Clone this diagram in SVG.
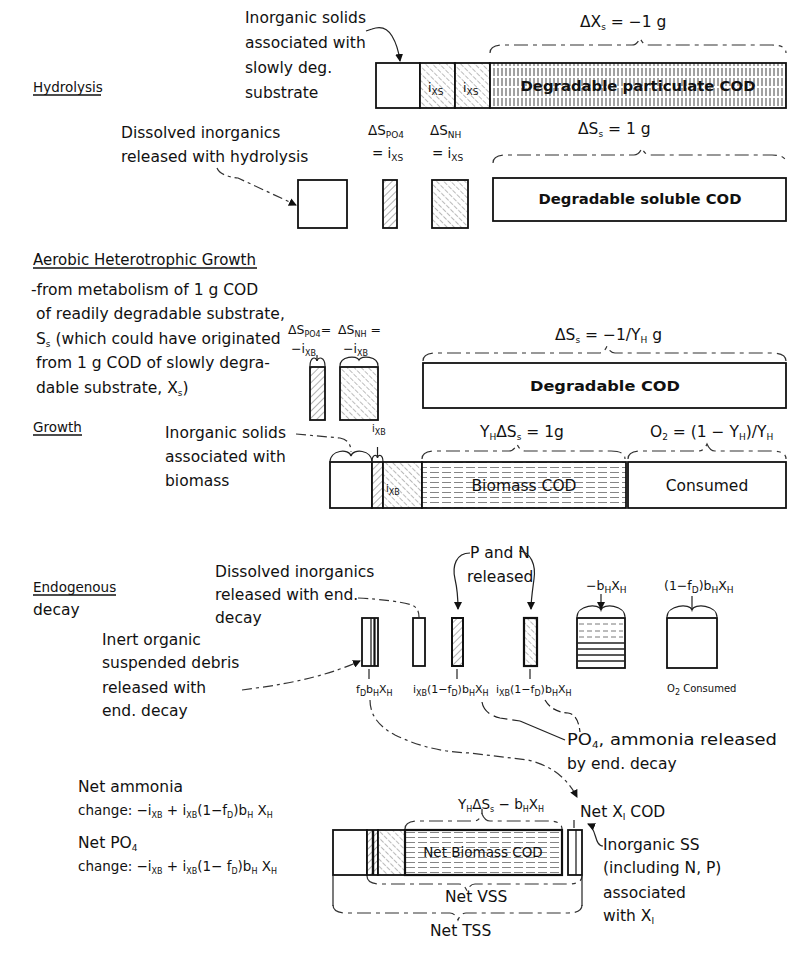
<svg xmlns="http://www.w3.org/2000/svg" width="794" height="970" viewBox="0 0 794 970">
<defs>
<style>
text{font-family:"DejaVu Sans","Liberation Sans",sans-serif;fill:#111}
.t{font-size:15.5px}
.h{font-size:15px}
.hs{font-size:13.5px}
.b{font-size:14px;font-weight:bold}
.m{font-size:13.5px}
.s{font-size:12.5px}
.l{font-size:11px}
.xs{font-size:10px}
.u{font-size:9px}
.uu{font-size:8px}
.box{fill:#fff;stroke:#111;stroke-width:1.8}
.ln{fill:none;stroke:#222;stroke-width:1.2}
.dl{fill:none;stroke:#333;stroke-width:1.2;stroke-dasharray:10 4 3 4}
.br{fill:none;stroke:#333;stroke-width:1.2;stroke-dasharray:14 5 4 5}
.ul{stroke:#111;stroke-width:1.3}
</style>
<pattern id="d1" width="5" height="5" patternUnits="userSpaceOnUse" patternTransform="rotate(45)">
<rect width="5" height="5" fill="#fff"/>
<line x1="0" y1="0" x2="0" y2="5" stroke="#555" stroke-width="0.9"/>
</pattern>
<pattern id="d2" width="5" height="6" patternUnits="userSpaceOnUse" patternTransform="rotate(-45)">
<rect width="5" height="6" fill="#fff"/>
<line x1="0" y1="0" x2="0" y2="6" stroke="#666" stroke-width="0.9" stroke-dasharray="3 1.5"/>
</pattern>
<pattern id="vt" width="4" height="10" patternUnits="userSpaceOnUse">
<rect width="4" height="10" fill="#fff"/>
<line x1="2" y1="0" x2="2" y2="10" stroke="#444" stroke-width="1" stroke-dasharray="6 2"/>
</pattern>
<pattern id="hz" width="12" height="5" patternUnits="userSpaceOnUse">
<rect width="12" height="5" fill="#fff"/>
<line x1="0" y1="2.5" x2="12" y2="2.5" stroke="#666" stroke-width="0.8" stroke-dasharray="7 3"/>
</pattern>
<marker id="ah" markerWidth="8" markerHeight="8" refX="7" refY="4" orient="auto" markerUnits="userSpaceOnUse">
<path d="M0,0 L8,4 L0,8 z" fill="#111"/>
</marker>
</defs>
<rect width="794" height="970" fill="#fff"/>

<!-- ===== Hydrolysis ===== -->
<g id="hydrolysis-title">
<text class="hs" x="33" y="92">Hydrolysis</text>
<line class="ul" x1="33" y1="95" x2="101" y2="95"/>
</g>
<g id="inorganic-solids-note">
<text class="t" x="245" y="23">Inorganic solids</text>
<text class="t" x="245" y="48">associated with</text>
<text class="t" x="245" y="73">slowly deg.</text>
<text class="t" x="245" y="98">substrate</text>
</g>
<g id="hydrolysis-bar">
<rect class="box" x="376" y="63" width="44" height="45"/>
<rect x="420" y="63" width="35" height="45" fill="url(#d2)" stroke="#111" stroke-width="1.8"/>
<rect x="455" y="63" width="35" height="45" fill="url(#d2)" stroke="#111" stroke-width="1.8"/>
<rect x="490" y="63" width="296" height="45" fill="url(#vt)" stroke="#111" stroke-width="1.8"/>
<text class="s" x="428" y="92">i<tspan class="u" dy="3">XS</tspan></text>
<text class="s" x="463" y="92">i<tspan class="u" dy="3">XS</tspan></text>
<text class="b" x="638" y="91" text-anchor="middle" textLength="235" lengthAdjust="spacingAndGlyphs">Degradable particulate COD</text>
</g>
<g id="dXs-label">
<text class="t" x="580" y="27">ΔX<tspan class="u" dy="3">s</tspan><tspan dy="-3"> = −1 g</tspan></text>
</g>

<g id="dissolved-note">
<text class="t" x="121" y="138">Dissolved inorganics</text>
<text class="t" x="121" y="162">released with hydrolysis</text>
</g>
<g id="hydrolysis-products">
<rect class="box" x="298" y="180" width="49" height="48"/>
<rect x="383" y="180" width="14" height="48" fill="url(#d1)" stroke="#111" stroke-width="1.8"/>
<rect x="432" y="180" width="36" height="48" fill="url(#d2)" stroke="#111" stroke-width="1.8"/>
<text class="m" x="368" y="135">ΔS<tspan class="u" dy="3">PO4</tspan></text>
<text class="m" x="372" y="158">= i<tspan class="u" dy="3">XS</tspan></text>
<text class="m" x="430" y="135">ΔS<tspan class="u" dy="3">NH</tspan></text>
<text class="m" x="432" y="158">= i<tspan class="u" dy="3">XS</tspan></text>
</g>
<g id="soluble-cod">
<rect class="box" x="493" y="178" width="293" height="43"/>
<text class="b" x="640" y="204" text-anchor="middle" textLength="203" lengthAdjust="spacingAndGlyphs">Degradable soluble COD</text>
<text class="t" x="578" y="134">ΔS<tspan class="u" dy="3">s</tspan><tspan dy="-3"> = 1 g</tspan></text>
</g>

<!-- ===== Aerobic heterotrophic growth ===== -->
<g id="aerobic-title">
<text class="h" x="33" y="265">Aerobic Heterotrophic Growth</text>
<line class="ul" x1="33" y1="268" x2="257" y2="268"/>
<text class="t" x="31" y="295">-from metabolism of 1 g COD</text>
<text class="t" x="36" y="319">of readily degradable substrate,</text>
<text class="t" x="36" y="344">S<tspan class="u" dy="3">s</tspan><tspan dy="-3"> (which could have originated</tspan></text>
<text class="t" x="36" y="368">from 1 g COD of slowly degra-</text>
<text class="t" x="36" y="393">dable substrate, X<tspan class="u" dy="3">s</tspan><tspan dy="-3">)</tspan></text>
</g>
<g id="aerobic-nutrients">
<text class="s" x="288" y="334">ΔS<tspan class="uu" dy="3">PO4</tspan><tspan dy="-3">=</tspan></text>
<text class="s" x="338" y="334">ΔS<tspan class="uu" dy="3">NH</tspan><tspan dy="-3"> =</tspan></text>
<text class="s" x="291" y="353">−i<tspan class="uu" dy="3">XB</tspan></text>
<text class="s" x="343" y="353">−i<tspan class="uu" dy="3">XB</tspan></text>
<rect x="310" y="367" width="15" height="53" fill="url(#d1)" stroke="#111" stroke-width="1.8"/>
<rect x="340" y="367" width="38" height="53" fill="url(#d2)" stroke="#111" stroke-width="1.8"/>
</g>
<g id="degradable-cod">
<text class="t" x="555" y="340">ΔS<tspan class="u" dy="3">s</tspan><tspan dy="-3"> = −1/Y</tspan><tspan class="u" dy="3">H</tspan><tspan dy="-3"> g</tspan></text>
<rect class="box" x="423" y="363" width="363" height="45"/>
<text class="b" x="605" y="391" text-anchor="middle" textLength="150" lengthAdjust="spacingAndGlyphs">Degradable COD</text>
</g>

<!-- ===== Growth ===== -->
<g id="growth-title">
<text class="hs" x="33" y="432">Growth</text>
<line class="ul" x1="33" y1="435" x2="82" y2="435"/>
</g>
<g id="biomass-inorganic-note">
<text class="t" x="165" y="438">Inorganic solids</text>
<text class="t" x="165" y="462">associated with</text>
<text class="t" x="165" y="486">biomass</text>
</g>
<g id="growth-bar">
<rect class="box" x="330" y="462" width="42" height="46"/>
<rect x="372" y="462" width="11" height="46" fill="url(#d1)" stroke="#111" stroke-width="1.8"/>
<rect x="383" y="462" width="39" height="46" fill="url(#d2)" stroke="#111" stroke-width="1.8"/>
<rect x="422" y="462" width="204" height="46" fill="url(#hz)" stroke="#111" stroke-width="1.8"/>
<rect class="box" x="628" y="462" width="158" height="46"/>
<text class="xs" x="386" y="492">i<tspan class="uu" dy="3">XB</tspan></text>
<text class="xs" x="372" y="432">i<tspan class="uu" dy="3">XB</tspan></text>
<text class="t" x="524" y="491" text-anchor="middle">Biomass COD</text>
<text class="t" x="707" y="491" text-anchor="middle">Consumed</text>
<text class="t" x="480" y="437">Y<tspan class="u" dy="3">H</tspan><tspan dy="-3">ΔS</tspan><tspan class="u" dy="3">s</tspan><tspan dy="-3"> = 1g</tspan></text>
<text class="t" x="650" y="437">O<tspan class="u" dy="3">2</tspan><tspan dy="-3">  = (1 − Y</tspan><tspan class="u" dy="3">H</tspan><tspan dy="-3">)/Y</tspan><tspan class="u" dy="3">H</tspan></text>
</g>

<!-- ===== Endogenous decay ===== -->
<g id="endogenous-title">
<text class="hs" x="33" y="592">Endogenous</text>
<line class="ul" x1="33" y1="595" x2="116" y2="595"/>
<text class="t" x="33" y="615">decay</text>
</g>
<g id="dissolved-end-note">
<text class="t" x="215" y="577">Dissolved inorganics</text>
<text class="t" x="215" y="600">released with end.</text>
<text class="t" x="215" y="623">decay</text>
</g>
<g id="inert-note">
<text class="t" x="102" y="645">Inert organic</text>
<text class="t" x="102" y="668">suspended debris</text>
<text class="t" x="102" y="693">released with</text>
<text class="t" x="102" y="716">end. decay</text>
</g>
<g id="pn-note">
<text class="t" x="470" y="558">P and N</text>
<text class="t" x="467" y="582">released</text>
</g>
<g id="decay-boxes">
<rect class="box" x="362" y="618" width="16" height="48"/>
<line x1="371" y1="618" x2="371" y2="666" stroke="#111" stroke-width="1.2"/>
<line x1="374.5" y1="618" x2="374.5" y2="666" stroke="#111" stroke-width="2.2"/>
<rect class="box" x="413" y="618" width="12" height="48"/>
<rect x="452" y="618" width="11" height="48" fill="url(#d1)" stroke="#111" stroke-width="2"/>
<rect x="524" y="618" width="13" height="48" fill="url(#d2)" stroke="#111" stroke-width="2.2"/>
<rect x="577" y="618" width="48" height="50" fill="#fff" stroke="#111" stroke-width="1.8"/>
<g stroke="#555" stroke-width="0.8" stroke-dasharray="5 3">
<line x1="579" y1="624" x2="623" y2="624"/>
<line x1="579" y1="631" x2="623" y2="631"/>
<line x1="579" y1="637" x2="623" y2="637"/>
</g>
<g stroke="#222" stroke-width="1.3">
<line x1="577" y1="643" x2="625" y2="643"/>
<line x1="577" y1="649" x2="625" y2="649"/>
<line x1="577" y1="655" x2="625" y2="655"/>
<line x1="577" y1="661" x2="625" y2="661"/>
</g>
<rect class="box" x="667" y="618" width="50" height="50"/>
<text class="l" x="356" y="693">f<tspan class="uu" dy="3">D</tspan><tspan dy="-3">b</tspan><tspan class="uu" dy="3">H</tspan><tspan dy="-3">X</tspan><tspan class="uu" dy="3">H</tspan></text>
<text class="l" x="413" y="693">i<tspan class="uu" dy="3">XB</tspan><tspan dy="-3">(1−f</tspan><tspan class="uu" dy="3">D</tspan><tspan dy="-3">)b</tspan><tspan class="uu" dy="3">H</tspan><tspan dy="-3">X</tspan><tspan class="uu" dy="3">H</tspan></text>
<text class="l" x="496" y="693">i<tspan class="uu" dy="3">XB</tspan><tspan dy="-3">(1−f</tspan><tspan class="uu" dy="3">D</tspan><tspan dy="-3">)b</tspan><tspan class="uu" dy="3">H</tspan><tspan dy="-3">X</tspan><tspan class="uu" dy="3">H</tspan></text>
<text class="s" x="586" y="590">−b<tspan class="u" dy="3">H</tspan><tspan dy="-3">X</tspan><tspan class="u" dy="3">H</tspan></text>
<text class="s" x="664" y="590">(1−f<tspan class="u" dy="3">D</tspan><tspan dy="-3">)b</tspan><tspan class="u" dy="3">H</tspan><tspan dy="-3">X</tspan><tspan class="u" dy="3">H</tspan></text>
<text class="xs" x="667" y="692">O<tspan class="uu" dy="3">2</tspan><tspan dy="-3"> Consumed</tspan></text>
</g>
<g id="po4-note">
<text class="t" x="567" y="745" textLength="210" lengthAdjust="spacingAndGlyphs">PO<tspan class="u" dy="3">4</tspan><tspan dy="-3">, ammonia released</tspan></text>
<text class="t" x="567" y="769">by end. decay</text>
</g>

<!-- ===== Net results ===== -->
<g id="net-ammonia">
<text class="t" x="78" y="792">Net ammonia</text>
<text class="m" x="78" y="815">change: −i<tspan class="uu" dy="3">XB</tspan><tspan dy="-3"> + i</tspan><tspan class="uu" dy="3">XB</tspan><tspan dy="-3">(1−f</tspan><tspan class="uu" dy="3">D</tspan><tspan dy="-3">)b</tspan><tspan class="uu" dy="3">H</tspan><tspan dy="-3"> X</tspan><tspan class="uu" dy="3">H</tspan></text>
</g>
<g id="net-po4">
<text class="t" x="78" y="848">Net PO<tspan class="u" dy="3">4</tspan></text>
<text class="m" x="78" y="871">change: −i<tspan class="uu" dy="3">XB</tspan><tspan dy="-3"> + i</tspan><tspan class="uu" dy="3">XB</tspan><tspan dy="-3">(1− f</tspan><tspan class="uu" dy="3">D</tspan><tspan dy="-3">)b</tspan><tspan class="uu" dy="3">H</tspan><tspan dy="-3"> X</tspan><tspan class="uu" dy="3">H</tspan></text>
</g>
<g id="net-bar">
<rect class="box" x="333" y="830" width="34" height="45"/>
<rect x="367" y="830" width="11" height="45" fill="url(#d1)" stroke="#111" stroke-width="1.8"/>
<line x1="373" y1="830" x2="373" y2="875" stroke="#111" stroke-width="2.4"/>
<rect x="378" y="830" width="27" height="45" fill="url(#d2)" stroke="#111" stroke-width="1.8"/>
<rect x="405" y="830" width="157" height="45" fill="url(#hz)" stroke="#111" stroke-width="2.2"/>
<text class="m" x="483" y="857" text-anchor="middle">Net Biomass COD</text>
<rect class="box" x="568" y="830" width="14" height="45"/>
<line x1="576" y1="830" x2="576" y2="875" stroke="#111" stroke-width="1.2"/>
<text class="m" x="458" y="809">Y<tspan class="uu" dy="3">H</tspan><tspan dy="-3">ΔS</tspan><tspan class="uu" dy="3">s</tspan><tspan dy="-3"> − b</tspan><tspan class="uu" dy="3">H</tspan><tspan dy="-3">X</tspan><tspan class="uu" dy="3">H</tspan></text>
<text class="t" x="580" y="817">Net X<tspan class="u" dy="3">I</tspan><tspan dy="-3"> COD</tspan></text>
<text class="t" x="445" y="902">Net VSS</text>
<text class="t" x="430" y="936">Net TSS</text>
</g>
<g id="inorganic-ss-note">
<text class="t" x="603" y="850">Inorganic SS</text>
<text class="t" x="603" y="873">(including N, P)</text>
<text class="t" x="603" y="898">associated</text>
<text class="t" x="603" y="921">with X<tspan class="u" dy="3">I</tspan></text>
</g>

<!-- ===== Connectors, braces, arrows ===== -->
<g id="connectors">
<path class="ln" d="M366,31 L372,29 Q385,24 392,36 Q398,46 400,61" marker-end="url(#ah)"/>
<path class="br" d="M490,53 Q490,45 504,45 L632,45 Q637,45 640,38 Q643,45 648,45 L772,45 Q786,45 786,53"/>
<path class="dl" d="M217,168 Q220,176 238,178 L296,205" marker-end="url(#ah)"/>
<path class="br" d="M493,163 Q493,155 507,155 L634,155 Q639,155 642,148 Q645,155 650,155 L772,155 Q786,155 786,163"/>
<path class="ln" d="M310,366 C310,357 316,356 317,361 C318,356 325,357 325,366"/>
<line class="ln" x1="317" y1="361" x2="317" y2="355"/>
<path class="ln" d="M340,366 C340,356 357,355 359,360 C361,355 378,356 378,366"/>
<path class="br" d="M423,361 Q423,353 437,353 L599,353 Q604,353 607,346 Q610,353 615,353 L772,353 Q786,353 786,361"/>
<path class="dl" d="M296,434 L340,438 Q351,440 351,452"/>
<path class="ln" d="M330,462 C330,450 349,448 351,456 C353,448 372,450 372,462"/>
<path class="ln" d="M372,462 C372,454 377,454 377.5,458 C378,454 383,454 383,462"/>
<line class="ln" x1="377.5" y1="458" x2="377.5" y2="447"/>
<path class="br" d="M422,459 Q422,451 436,451 L509,451 Q514,451 517,444 Q520,451 525,451 L611,451 Q625,451 625,459"/>
<path class="br" d="M628,459 Q628,451 642,451 L699,451 Q704,451 707,444 Q710,451 715,451 L772,451 Q786,451 786,459"/>
<path class="dl" d="M358,598 Q395,600 412,605 Q419,608 419,617"/>
<path class="ln" d="M470,553 C456,553 452,566 455,579 C458,592 458,598 458,609" marker-end="url(#ah)"/>
<path class="ln" d="M519,551 C531,552 536,565 534,579 C532,594 531,600 531,609" marker-end="url(#ah)"/>
<path class="ln" d="M577,617 C577,605 599,603 601,610 C603,603 625,605 625,617"/>
<line class="ln" x1="601" y1="594" x2="601" y2="609" marker-end="url(#ah)"/>
<path class="ln" d="M667,617 C667,605 690,603 692,610 C694,603 717,605 717,617"/>
<line class="ln" x1="692" y1="596" x2="692" y2="609"/>
<line class="ln" x1="369" y1="679" x2="369" y2="669"/>
<line class="ln" x1="457" y1="679" x2="457" y2="669"/>
<line class="ln" x1="530" y1="679" x2="530" y2="669"/>
<path class="dl" d="M242,690 L256,688 Q318,680 360,661" marker-end="url(#ah)"/>
<path class="ln" d="M482,702 Q484,714 500,718 L520,721" stroke-dasharray="14 5"/>
<path class="ln" d="M520,721 L565,740"/>
<path class="ln" d="M545,700 Q552,712 568,713 Q578,714 580,732" stroke-dasharray="8 4"/>
<path class="dl" d="M370,700 Q370,722 395,735 Q430,752 470,753 L528,760 Q562,768 577,797" marker-end="url(#ah)"/>
<path class="br" d="M405,829 Q405,821 419,821 L474,821 Q479,821 482,814 Q485,821 490,821 L548,821 Q562,821 562,829"/>
<line class="ln" x1="482" y1="814" x2="482" y2="809"/>
<line class="ln" x1="574" y1="820" x2="574" y2="828"/>
<path class="ln" d="M603,846 C594,846 597,828 588,824" marker-end="url(#ah)"/>
<path class="br" d="M367,876 Q367,884 381,884 L459,884 Q464,884 467,891 Q470,884 475,884 L568,884 Q582,884 582,876"/>
<line class="ln" x1="333" y1="875" x2="333" y2="906"/>
<line class="ln" x1="582" y1="875" x2="582" y2="906"/>
<path class="br" d="M333,905 Q333,913 347,913 L450,913 Q455,913 458,920 Q461,913 466,913 L568,913 Q582,913 582,905"/>
</g>
</svg>
